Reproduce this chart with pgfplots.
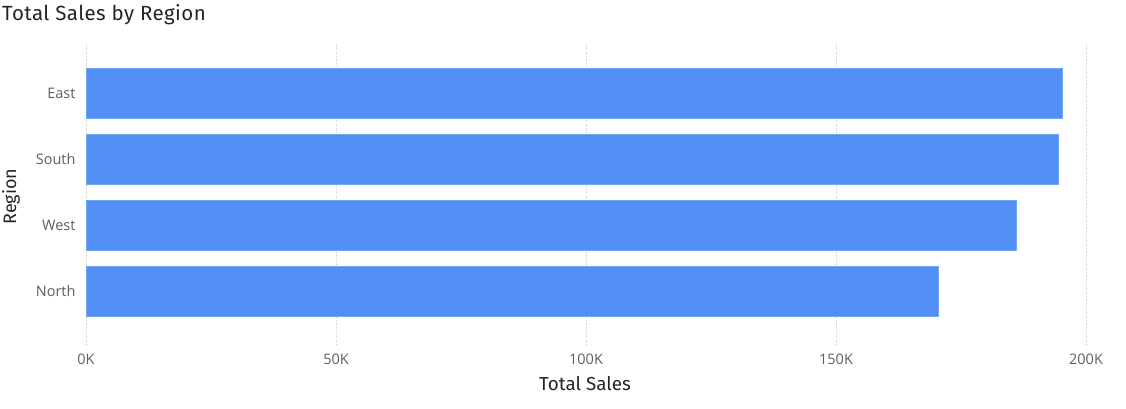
\documentclass[border=0pt]{standalone}
\usepackage{pgfplots}
\pgfplotsset{compat=1.18}
\usepackage{fontspec}
\setmainfont{Open Sans}
\newfontfamily\titlefont[LetterSpace=2]{Fira Sans}
\newfontfamily\labelfont{Fira Sans}

\definecolor{barblue}{RGB}{81,143,245}
\definecolor{tickgrey}{RGB}{96,94,92}
\definecolor{titledark}{RGB}{37,36,35}
\definecolor{gridgrey}{RGB}{200,200,200}

\begin{document}
\begin{tikzpicture}
% full canvas, 1 pt per pixel of the reference
\path[use as bounding box] (0pt,0pt) rectangle (1126pt,-408pt);
\node[anchor=base west, inner sep=0pt, text=titledark,
  font=\titlefont\fontsize{20.5}{22}\selectfont] at (2pt,-20pt) {Total Sales by Region};
\begin{axis}[
  at={(86pt,-344pt)},
  anchor=south west,
  scale only axis,
  width=1000pt,
  height=301pt,
  xbar,
  bar width=0.76,
  xmin=0, xmax=200000,
  ymin=-0.8, ymax=3.76,
  xtick={0,50000,100000,150000,200000},
  xticklabels={0K,50K,100K,150K,200K},
  ytick={0,1,2,3},
  yticklabels={North,West,South,East},
  scaled x ticks=false,
  axis line style={draw=none},
  major tick length=0pt,
  xmajorgrids,
  major grid style={gridgrey, dotted, line width=0.8pt},
  xticklabel style={font=\fontsize{14.5}{16}\selectfont, text=tickgrey, anchor=north, yshift=-6pt},
  yticklabel style={font=\fontsize{14.5}{16}\selectfont, text=tickgrey, anchor=east, xshift=-7pt},
  xlabel={Total Sales},
  ylabel={Region},
  xlabel style={font=\labelfont\fontsize{18.8}{20}\selectfont, text=titledark,
    at={(axis description cs:0.499,-0.13)}, anchor=center},
  ylabel style={font=\labelfont\fontsize{18}{20}\selectfont, text=titledark,
    at={(axis description cs:-0.075,0.49)}, anchor=center, rotate=0},
]
\addplot[fill=barblue, draw=barblue!80!white, line width=0.6pt] coordinates {
  (170400,0) (186100,1) (194400,2) (195200,3)
};
\end{axis}
\end{tikzpicture}
\end{document}
